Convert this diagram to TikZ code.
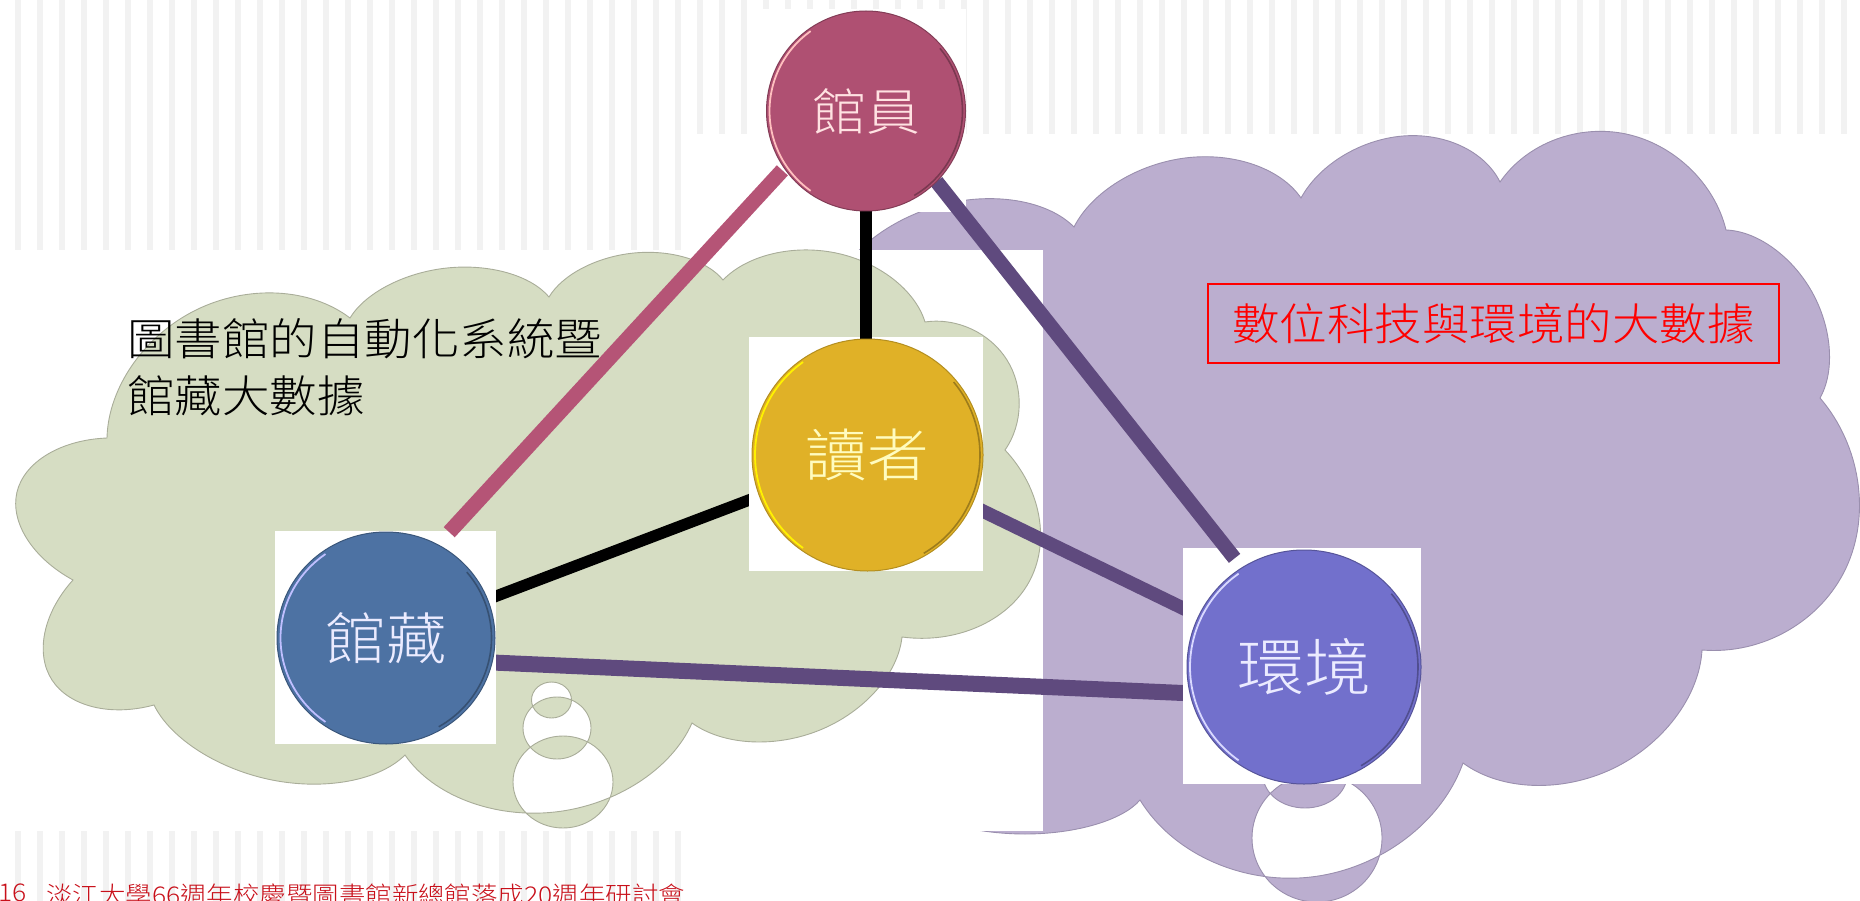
\documentclass[tikz,border=0pt]{standalone}
\usepackage{fontspec}
\usetikzlibrary{shapes.geometric}
\newfontfamily\cjk[FakeStretch=1.08]{Noto Sans CJK TC Light}
\definecolor{stripe}{HTML}{F2F2F2}
\definecolor{greencloud}{HTML}{D6DDC3}
\definecolor{greenedge}{HTML}{A9AD99}
\definecolor{purplecloud}{HTML}{BBAECF}
\definecolor{purpleedge}{HTML}{9A8FAE}
\definecolor{linkpink}{HTML}{B55476}
\definecolor{linkpurple}{HTML}{5F4A7E}
\definecolor{nodepink}{HTML}{AF5072}
\definecolor{nodeblue}{HTML}{4D72A3}
\definecolor{nodegold}{HTML}{E0B127}
\definecolor{nodeviolet}{HTML}{7270CC}
\definecolor{darkred}{HTML}{C8101A}
\pgfdeclarelayer{base}\pgfdeclarelayer{conna}\pgfdeclarelayer{rects}\pgfdeclarelayer{connb}
\pgfsetlayers{base,conna,rects,connb,main}
\tikzset{
  stripebar/.style={fill=stripe},
  hub/.style={ellipse,inner sep=0pt,outer sep=0pt,line width=1pt,text centered},
  link/.style={line width=#1,line cap=butt},
  whitepatch/.style={fill=white},
}
% left highlight and right shade on a hub: centre, radii, colours
\newcommand{\rim}[6]{%
  \draw[#5,line width=1.8pt] plot[domain=125:235,samples=30,smooth] ({#1+#3*cos(\x)},{#2-#4*sin(\x)});
  \draw[#6,line width=1.6pt] plot[domain=-60:40,samples=30,smooth] ({#1+#3*cos(\x)},{#2-#4*sin(\x)});
}
% one puff of a cloud: from A through P to B
\def\bump#1#2#3#4#5#6{%
  .. controls ({#1+.6*(#3-(#1+#5)/2)+.085*(#5-#1)},{#2+.6*(#4-(#2+#6)/2)+.085*(#6-#2)}) and ({#3-.21*(#5-#1)},{#4-.21*(#6-#2)}) .. (#3,#4)
  .. controls ({#3+.21*(#5-#1)},{#4+.21*(#6-#2)}) and ({#5+.6*(#3-(#1+#5)/2)-.085*(#5-#1)},{#6+.6*(#4-(#2+#6)/2)-.085*(#6-#2)}) .. (#5,#6)}
\begin{document}
\begin{tikzpicture}[x=1pt,y=-1pt]
\useasboundingbox (0,0) rectangle (1860,901);
% nodes
\node[hub,draw=nodepink!75!black,fill=nodepink,minimum width=199pt,minimum height=200pt,text=pink!45!white] (lib) at (866,111) {\cjk\fontsize{50}{50}\selectfont 館員};
\node[hub,draw=nodegold!80!black,fill=nodegold,minimum width=231pt,minimum height=232pt,text=yellow!25!white] (rd) at (867.5,455) {\raisebox{-2pt}{\cjk\fontsize{57}{57}\selectfont 讀者}};
\node[hub,draw=nodeblue!75!black,fill=nodeblue,minimum width=218pt,minimum height=212pt,text=blue!8!white] (col) at (386,638) {\cjk\fontsize{56}{56}\selectfont 館藏};
\node[hub,draw=nodeviolet!75!black,fill=nodeviolet,minimum width=234pt,minimum height=234pt,text=blue!8!white] (env) at (1304,667) {\cjk\fontsize{62}{62}\selectfont 環境};
\rim{866}{111}{96.5}{97.5}{pink}{nodepink!70!black}
\rim{867.5}{455}{112.5}{113.5}{yellow}{nodegold!70!black}
\rim{386}{638}{105.5}{102.5}{blue!25!white}{nodeblue!70!black}
\rim{1304}{667}{114}{114}{blue!15!white}{nodeviolet!70!black}
% labels
\node[anchor=north west,inner sep=0pt,align=left,font=\cjk\fontsize{44}{57}\selectfont,text=black] (tl) at (127,318) {圖書館的自動化系統暨\\館藏大數據};
\node[draw=red,line width=1.4pt,minimum width=571pt,minimum height=79pt,inner sep=0pt,font=\cjk\fontsize{44}{44}\selectfont,text=red] (tr) at (1493.5,323.5) {數位科技與環境的大數據};
\node[anchor=north west,inner sep=0pt,font=\cjk\fontsize{24.5}{24.5}\selectfont,text=darkred] (foot) at (-2,884) {16};
\node[anchor=north west,inner sep=0pt,font=\cjk\fontsize{24.5}{24.5}\selectfont,text=darkred] (foot2) at (46,884) {淡江大學66週年校慶暨圖書館新總館落成20週年研討會};
% background stripes and clouds
\begin{pgfonlayer}{base}
\foreach \k in {0,...,30} {
  \fill[stripebar] ({15+22*\k},0) rectangle +(6,250);
  \fill[stripebar] ({15+22*\k},831) rectangle +(6,70);
}
\foreach \k in {0,...,52} \fill[stripebar] ({697+22*\k},0) rectangle +(6,134);
% purple cloud
\path[fill=purplecloud,draw=purpleedge,line width=.9pt,even odd rule]
  (835,285)
  \bump{835}{285}{945}{204}{1074}{227}
  \bump{1074}{227}{1185}{158}{1301}{198}
  \bump{1301}{198}{1403}{136}{1500}{182}
  \bump{1500}{182}{1626}{134}{1726}{230}
  \bump{1726}{230}{1812}{292}{1820}{398}
  \bump{1820}{398}{1846}{568}{1702}{650}
  \bump{1702}{650}{1612}{769}{1463}{763}
  \bump{1463}{763}{1311}{877}{1140}{800}
  \bump{1140}{800}{1025}{834}{900}{800}
  -- (835,500) -- cycle
  (1317,838) ellipse [x radius=65pt,y radius=64pt]
  (1305,775) ellipse [x radius=42pt,y radius=33pt];
% white patch over the purple cloud
\fill[whitepatch] (790,250) rectangle (1043,831);
% green cloud
\path[fill=greencloud,draw=greenedge,line width=.9pt,even odd rule]
  (107,438)
  \bump{107}{438}{196}{310}{350}{318}
  \bump{350}{318}{447}{268}{549}{297}
  \bump{549}{297}{634}{253}{723}{280}
  \bump{723}{280}{836}{253}{925}{322}
  \bump{925}{322}{1007}{360}{1005}{450}
  \bump{1005}{450}{1029}{582}{902}{637}
  \bump{902}{637}{820}{730}{692}{723}
  \bump{692}{723}{555}{812}{405}{755}
  \bump{405}{755}{272}{780}{154}{705}
  \bump{154}{705}{52}{680}{73}{580}
  \bump{73}{580}{17}{492}{107}{438}
  -- cycle
  (563,782) ellipse [x radius=50pt,y radius=46pt]
  (557,728) ellipse [x radius=34pt,y radius=31pt]
  (551.5,700) ellipse [x radius=20pt,y radius=18pt];
\end{pgfonlayer}
% connectors under the white squares
\begin{pgfonlayer}{conna}
\draw[link=11.5pt,black] (col) -- (rd);
\draw[link=13.5pt,linkpurple] (rd) -- (env);
\draw[link=16pt,linkpurple] (col.-13) -- (env.193);
\end{pgfonlayer}
% white squares behind the hubs
\begin{pgfonlayer}{rects}
\fill[whitepatch] (763,9) rectangle (966,212);
\fill[whitepatch] (749,337) rectangle (983,571);
\fill[whitepatch] (275,531) rectangle (496,744);
\fill[whitepatch] (1183,548) rectangle (1421,784);
\end{pgfonlayer}
% connectors over the white squares
\begin{pgfonlayer}{connb}
\draw[link=15pt,linkpink,shorten <=3pt,shorten >=17pt] (lib.215.2) -- (col.61.2);
\draw[link=14.5pt,linkpurple,shorten >=12pt] (lib.-45) -- (env.122.4);
\draw[link=12pt,black] (lib.south) -- (lib.south |- rd.north);
\end{pgfonlayer}
\end{tikzpicture}
\end{document}
